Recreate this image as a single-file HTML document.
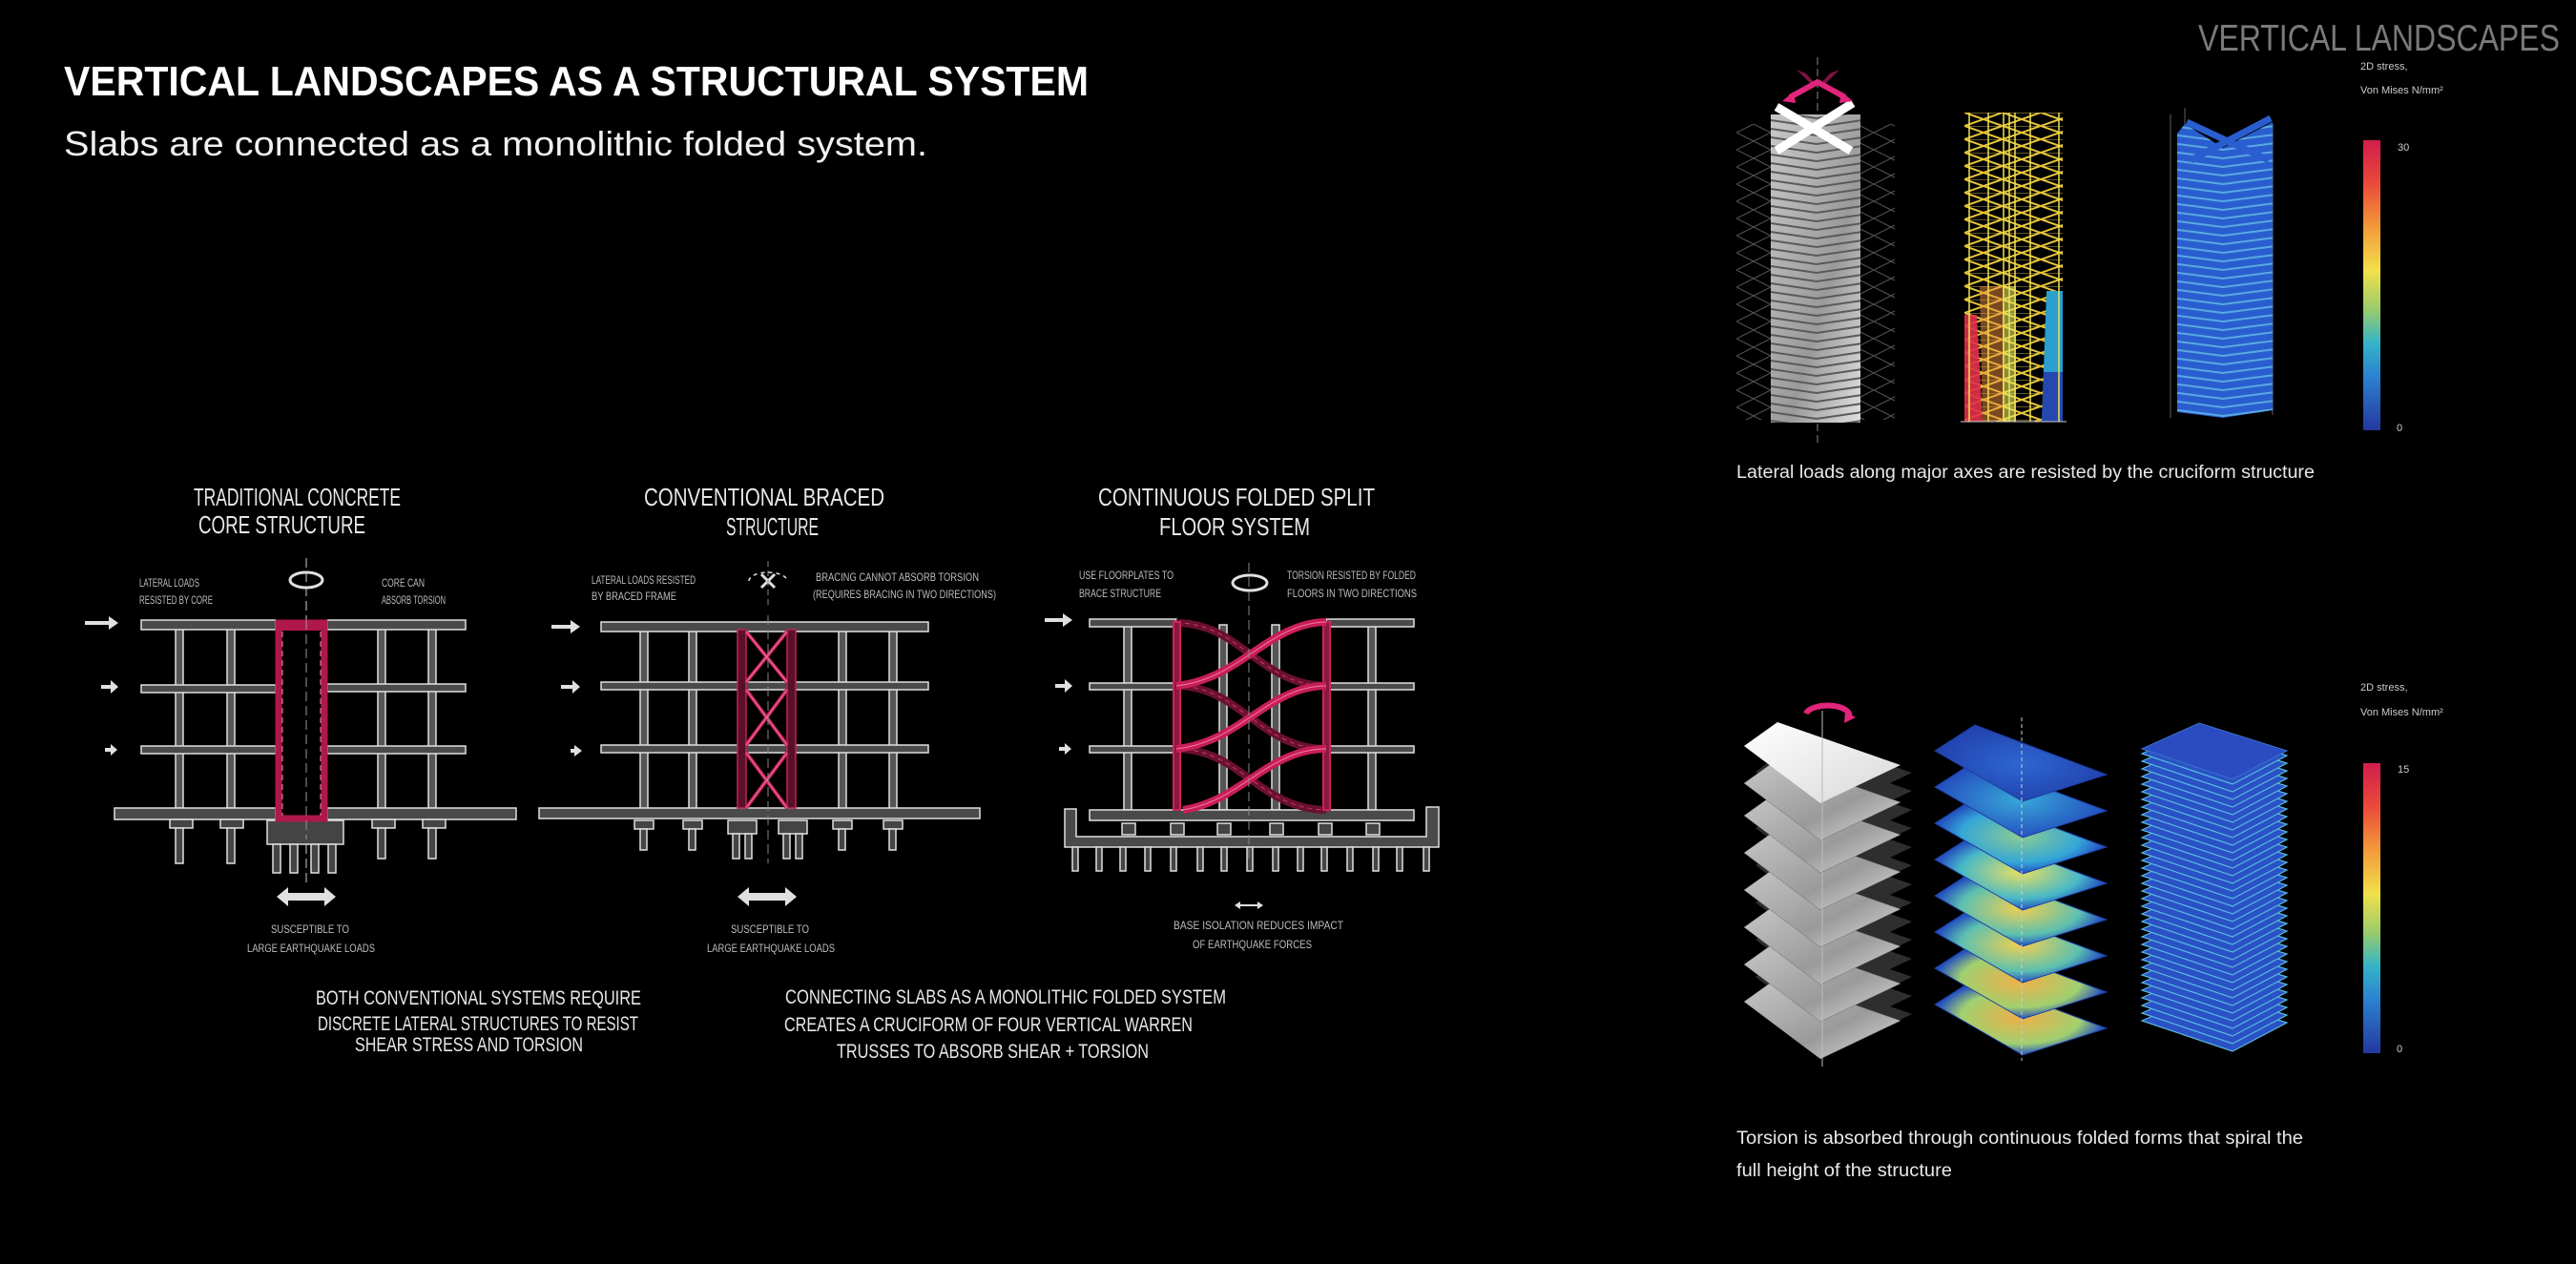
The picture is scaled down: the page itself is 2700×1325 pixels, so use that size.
<!DOCTYPE html>
<html><head><meta charset="utf-8"><style>
html,body{margin:0;padding:0;background:#000;}
svg{display:block;}
.h{font-family:"Liberation Sans Narrow","Liberation Sans",sans-serif;fill:#e8e8e8;}
.s{font-family:"Liberation Sans Narrow","Liberation Sans",sans-serif;fill:#bdbdbd;}
.t{font-family:"Liberation Sans",sans-serif;}
</style></head><body>
<svg width="2700" height="1325" viewBox="0 0 2700 1325" xmlns="http://www.w3.org/2000/svg">
<defs>
<linearGradient id="cbar" x1="0" y1="0" x2="0" y2="1">
<stop offset="0" stop-color="#d21d4c"/><stop offset="0.15" stop-color="#ea4a3a"/><stop offset="0.3" stop-color="#f39a3a"/><stop offset="0.45" stop-color="#f2e04a"/><stop offset="0.58" stop-color="#9ccc6a"/><stop offset="0.7" stop-color="#34b4c8"/><stop offset="0.82" stop-color="#2c7fd0"/><stop offset="1" stop-color="#2438a0"/>
</linearGradient>
<linearGradient id="gw" x1="0" y1="0" x2="1" y2="1"><stop offset="0" stop-color="#fff"/><stop offset="1" stop-color="#d8d8d8"/></linearGradient>
<linearGradient id="gg" x1="0" y1="0" x2="1" y2="1"><stop offset="0" stop-color="#c8c8c8"/><stop offset="0.6" stop-color="#9a9a9a"/><stop offset="1" stop-color="#e0e0e0"/></linearGradient>
<radialGradient id="b0"><stop offset="0" stop-color="#2e66d0"/><stop offset="1" stop-color="#2244b0"/></radialGradient>
<radialGradient id="b1"><stop offset="0" stop-color="#38a8d8"/><stop offset="1" stop-color="#2450c0"/></radialGradient>
<radialGradient id="b2"><stop offset="0" stop-color="#8ccc90"/><stop offset="0.7" stop-color="#34a6d8"/><stop offset="1" stop-color="#2450c0"/></radialGradient>
<radialGradient id="b3"><stop offset="0" stop-color="#e6e060"/><stop offset="0.7" stop-color="#48b8c8"/><stop offset="1" stop-color="#2450c0"/></radialGradient>
<radialGradient id="b4"><stop offset="0" stop-color="#f0d050"/><stop offset="0.7" stop-color="#5cc0b0"/><stop offset="1" stop-color="#2450c0"/></radialGradient>
<radialGradient id="b5"><stop offset="0" stop-color="#f0b048"/><stop offset="0.7" stop-color="#a0d070"/><stop offset="1" stop-color="#2450c0"/></radialGradient>
<pattern id="zig" width="40" height="14" patternUnits="userSpaceOnUse" x="2059" y="118">
<path d="M0 0 L40 14 M0 14 L40 0" stroke="#e8c83a" stroke-width="2"/><path d="M0 0 H40" stroke="#c8b040" stroke-width="1"/></pattern>
<pattern id="chev" width="110" height="9" patternUnits="userSpaceOnUse" x="2275" y="113">
<path d="M0 1 L55 8 L110 1" stroke="#6ec8e8" stroke-width="2" fill="none"/></pattern>
<pattern id="chevg" width="96" height="9" patternUnits="userSpaceOnUse" x="1856" y="107">
<path d="M0 1 L48 8 L96 1" stroke="#5a5a5a" stroke-width="2" fill="none"/></pattern>
<pattern id="wire" width="36" height="18" patternUnits="userSpaceOnUse" x="1820" y="130">
<path d="M0 9 L18 0 L36 9 M0 9 L18 18 L36 9" stroke="#555" stroke-width="1" fill="none"/></pattern>
<path id="dA" d="M1828 782 L1863 757 L1992 802 L1908 842 Z"/>
<path id="dB" d="M2028 787 L2070 760 L2208 812 L2120 840 Z"/>
<path id="dC" d="M2245 785 L2305 758 L2397 787 L2340 817 Z"/>
</defs>

<text x="67" y="100" class="t" font-size="44" font-weight="bold" fill="#fff" textLength="1074" lengthAdjust="spacingAndGlyphs">VERTICAL LANDSCAPES AS A STRUCTURAL SYSTEM</text>
<text x="67" y="163" class="t" font-size="36" fill="#f0f0f0" textLength="905" lengthAdjust="spacingAndGlyphs">Slabs are connected as a monolithic folded system.</text>
<text x="2304" y="53" class="t" font-size="39" fill="#7a7a7a" textLength="379" lengthAdjust="spacingAndGlyphs">VERTICAL LANDSCAPES</text>

<g class="h" font-size="26">
<text x="203" y="530" textLength="217" lengthAdjust="spacingAndGlyphs">TRADITIONAL CONCRETE</text>
<text x="208" y="559" textLength="175" lengthAdjust="spacingAndGlyphs">CORE STRUCTURE</text>
<text x="675" y="530" textLength="252" lengthAdjust="spacingAndGlyphs">CONVENTIONAL BRACED</text>
<text x="761" y="561" textLength="97" lengthAdjust="spacingAndGlyphs">STRUCTURE</text>
<text x="1151" y="530" textLength="290" lengthAdjust="spacingAndGlyphs">CONTINUOUS FOLDED SPLIT</text>
<text x="1215" y="561" textLength="158" lengthAdjust="spacingAndGlyphs">FLOOR SYSTEM</text>
</g>
<g class="s" font-size="12">
<text x="146" y="615" textLength="63" lengthAdjust="spacingAndGlyphs">LATERAL LOADS</text>
<text x="146" y="633" textLength="77" lengthAdjust="spacingAndGlyphs">RESISTED BY CORE</text>
<text x="400" y="615" textLength="45" lengthAdjust="spacingAndGlyphs">CORE CAN</text>
<text x="400" y="633" textLength="67" lengthAdjust="spacingAndGlyphs">ABSORB TORSION</text>
<text x="620" y="612" textLength="109" lengthAdjust="spacingAndGlyphs">LATERAL LOADS RESISTED</text>
<text x="620" y="629" textLength="89" lengthAdjust="spacingAndGlyphs">BY BRACED FRAME</text>
<text x="855" y="609" textLength="171" lengthAdjust="spacingAndGlyphs">BRACING CANNOT ABSORB TORSION</text>
<text x="852" y="627" textLength="192" lengthAdjust="spacingAndGlyphs">(REQUIRES BRACING IN TWO DIRECTIONS)</text>
<text x="1131" y="607" textLength="99" lengthAdjust="spacingAndGlyphs">USE FLOORPLATES TO</text>
<text x="1131" y="626" textLength="86" lengthAdjust="spacingAndGlyphs">BRACE STRUCTURE</text>
<text x="1349" y="607" textLength="135" lengthAdjust="spacingAndGlyphs">TORSION RESISTED BY FOLDED</text>
<text x="1349" y="626" textLength="136" lengthAdjust="spacingAndGlyphs">FLOORS IN TWO DIRECTIONS</text>
<text x="284" y="978" textLength="82" lengthAdjust="spacingAndGlyphs">SUSCEPTIBLE TO</text>
<text x="259" y="998" textLength="134" lengthAdjust="spacingAndGlyphs">LARGE EARTHQUAKE LOADS</text>
<text x="766" y="978" textLength="82" lengthAdjust="spacingAndGlyphs">SUSCEPTIBLE TO</text>
<text x="741" y="998" textLength="134" lengthAdjust="spacingAndGlyphs">LARGE EARTHQUAKE LOADS</text>
<text x="1230" y="974" textLength="178" lengthAdjust="spacingAndGlyphs">BASE ISOLATION REDUCES IMPACT</text>
<text x="1250" y="994" textLength="125" lengthAdjust="spacingAndGlyphs">OF EARTHQUAKE FORCES</text>
</g>
<g class="h" font-size="21">
<text x="331" y="1053" textLength="341" lengthAdjust="spacingAndGlyphs">BOTH CONVENTIONAL SYSTEMS REQUIRE</text>
<text x="333" y="1080" textLength="336" lengthAdjust="spacingAndGlyphs">DISCRETE LATERAL STRUCTURES TO RESIST</text>
<text x="372" y="1102" textLength="239" lengthAdjust="spacingAndGlyphs">SHEAR STRESS AND TORSION</text>
<text x="823" y="1052" textLength="462" lengthAdjust="spacingAndGlyphs">CONNECTING SLABS AS A MONOLITHIC FOLDED SYSTEM</text>
<text x="822" y="1081" textLength="428" lengthAdjust="spacingAndGlyphs">CREATES A CRUCIFORM OF FOUR VERTICAL WARREN</text>
<text x="877" y="1109" textLength="327" lengthAdjust="spacingAndGlyphs">TRUSSES TO ABSORB SHEAR + TORSION</text>
</g>

<!-- Sketch 1 -->
<g stroke="#e0e0e0" stroke-width="1.5">
<line x1="321" y1="585" x2="321" y2="930" stroke="#888" stroke-dasharray="10 5"/>
<g fill="#555">
<rect x="184" y="655" width="8" height="192"/><rect x="238" y="655" width="8" height="192"/>
<rect x="396" y="655" width="8" height="192"/><rect x="449" y="655" width="8" height="192"/>
</g>
<g fill="#4a4a4a">
<rect x="148" y="650" width="141" height="10"/><rect x="343" y="650" width="145" height="10"/>
<rect x="148" y="718" width="141" height="8"/><rect x="343" y="717" width="145" height="8"/>
<rect x="148" y="782" width="141" height="8"/><rect x="343" y="782" width="145" height="8"/>
<rect x="120" y="847" width="169" height="12"/><rect x="343" y="847" width="198" height="12"/>
</g>
<g fill="#444">
<rect x="178" y="859" width="24" height="9"/><rect x="231" y="859" width="24" height="9"/>
<rect x="390" y="859" width="24" height="9"/><rect x="443" y="859" width="24" height="9"/>
<rect x="184" y="868" width="8" height="37"/><rect x="238" y="868" width="8" height="37"/>
<rect x="396" y="868" width="8" height="32"/><rect x="449" y="868" width="8" height="32"/>
<rect x="280" y="860" width="80" height="25"/>
<rect x="286" y="885" width="8" height="30"/><rect x="304" y="885" width="8" height="30"/><rect x="326" y="885" width="8" height="30"/><rect x="344" y="885" width="8" height="30"/>
</g>
</g>
<rect x="292" y="653" width="48" height="205" fill="#000" stroke="#b0184c" stroke-width="7"/>
<rect x="292" y="651" width="48" height="10" fill="#b0184c"/>
<path d="M296 662 V855 M336 662 V855" stroke="#e88aa8" stroke-width="1" stroke-dasharray="6 4"/>
<line x1="321" y1="650" x2="321" y2="880" stroke="#999" stroke-dasharray="10 5"/>
<g fill="#e0e0e0">
<path d="M89 651 H114 V646 L124 653 L114 660 V655 H89 Z"/>
<path d="M106 718 H116 V713 L124 720 L116 727 V722 H106 Z"/>
<path d="M110 784 H116 V780 L123 786 L116 792 V788 H110 Z"/>
<path d="M578 655 H598 V650 L608 657 L598 664 V659 H578 Z"/>
<path d="M588 718 H600 V713 L608 720 L600 727 V722 H588 Z"/>
<path d="M598 785 H602 V781 L610 787 L602 793 V789 H598 Z"/>
<path d="M1095 648 H1114 V643 L1124 650 L1114 657 V652 H1095 Z"/>
<path d="M1106 717 H1116 V712 L1124 719 L1116 726 V721 H1106 Z"/>
<path d="M1110 783 H1116 V779 L1123 785 L1116 791 V787 H1110 Z"/>
<path d="M290 940 L302 930 V936 H340 V930 L352 940 L340 950 V944 H302 V950 Z"/>
<path d="M773 940 L785 930 V936 H823 V930 L835 940 L823 950 V944 H785 V950 Z"/>
<path d="M1294 949 L1300 945 V948 H1318 V945 L1324 949 L1318 953 V950 H1300 V953 Z"/>
</g>
<g fill="none" stroke="#e0e0e0" stroke-width="3">
<ellipse cx="321" cy="608" rx="17" ry="8"/>
<ellipse cx="1310" cy="611" rx="18" ry="8"/>
<path d="M785 609 a20 9 0 1 1 40 0" stroke-dasharray="4 4" stroke-width="1.5"/>
<path d="M798 602 L812 616 M812 602 L798 616" stroke-width="3"/>
</g>
<line x1="805" y1="588" x2="805" y2="635" stroke="#888" stroke-dasharray="6 4"/>

<!-- Sketch 2 -->
<g stroke="#e0e0e0" stroke-width="1.5">
<g fill="#555">
<rect x="671" y="660" width="8" height="188"/><rect x="722" y="660" width="8" height="188"/>
<rect x="879" y="660" width="8" height="188"/><rect x="932" y="660" width="8" height="188"/>
</g>
<g fill="#4a4a4a">
<rect x="630" y="652" width="343" height="10"/>
<rect x="630" y="715" width="343" height="8"/>
<rect x="630" y="781" width="343" height="8"/>
<rect x="565" y="847" width="462" height="11"/>
</g>
<g fill="#444">
<rect x="665" y="860" width="20" height="9"/><rect x="716" y="860" width="20" height="9"/>
<rect x="873" y="860" width="20" height="9"/><rect x="926" y="860" width="20" height="9"/>
<rect x="671" y="869" width="7" height="22"/><rect x="722" y="869" width="7" height="22"/>
<rect x="879" y="869" width="7" height="22"/><rect x="932" y="869" width="7" height="22"/>
<rect x="763" y="860" width="30" height="14"/><rect x="816" y="860" width="30" height="14"/>
<rect x="768" y="874" width="7" height="26"/><rect x="781" y="874" width="7" height="26"/>
<rect x="821" y="874" width="7" height="26"/><rect x="834" y="874" width="7" height="26"/>
</g>
</g>
<g fill="#5a1028" stroke="#c0205a" stroke-width="1.5">
<rect x="773" y="660" width="9" height="187"/><rect x="825" y="660" width="9" height="187"/>
</g>
<g stroke="#c0205a" stroke-width="4">
<path d="M782 662 L825 715 M825 662 L782 715 M782 723 L825 781 M825 723 L782 781 M782 789 L825 847 M825 789 L782 847"/>
</g>
<g stroke="#f07aa0" stroke-width="1">
<path d="M782 662 L825 715 M825 662 L782 715 M782 723 L825 781 M825 723 L782 781 M782 789 L825 847 M825 789 L782 847"/>
</g>
<line x1="805" y1="645" x2="805" y2="905" stroke="#888" stroke-dasharray="10 5"/>

<!-- Sketch 3 -->
<g stroke="#e0e0e0" stroke-width="1.5">
<g fill="#555">
<rect x="1178" y="655" width="8" height="194"/><rect x="1278" y="655" width="8" height="194"/>
<rect x="1333" y="655" width="8" height="194"/><rect x="1434" y="655" width="8" height="194"/>
</g>
<g fill="#4a4a4a">
<rect x="1142" y="649" width="91" height="8"/><rect x="1390" y="649" width="92" height="8"/>
<rect x="1142" y="716" width="91" height="7"/><rect x="1390" y="716" width="92" height="7"/>
<rect x="1142" y="782" width="91" height="7"/><rect x="1390" y="782" width="92" height="7"/>
<rect x="1142" y="849" width="340" height="11"/>
<path d="M1116 848 H1128 V877 H1495 V846 H1508 V888 H1116 Z"/>
</g>
<g fill="#444">
<rect x="1176" y="863" width="14" height="12"/><rect x="1227" y="863" width="14" height="12"/>
<rect x="1276" y="863" width="14" height="12"/><rect x="1331" y="863" width="14" height="12"/>
<rect x="1382" y="863" width="14" height="12"/><rect x="1432" y="863" width="14" height="12"/>
</g>
<g fill="#444">
<rect x="1124" y="888" width="6" height="25"/><rect x="1149" y="888" width="6" height="25"/><rect x="1174" y="888" width="6" height="25"/>
<rect x="1200" y="888" width="6" height="25"/><rect x="1227" y="888" width="6" height="25"/><rect x="1255" y="888" width="6" height="25"/>
<rect x="1280" y="888" width="6" height="25"/><rect x="1307" y="888" width="6" height="25"/><rect x="1334" y="888" width="6" height="25"/>
<rect x="1360" y="888" width="6" height="25"/><rect x="1385" y="888" width="6" height="25"/><rect x="1412" y="888" width="6" height="25"/>
<rect x="1439" y="888" width="6" height="25"/><rect x="1464" y="888" width="6" height="25"/><rect x="1492" y="888" width="6" height="25"/>
</g>
</g>
<g fill="none" stroke="#6a1030" stroke-width="8">
<path d="M1233 653 C1300 653, 1320 718, 1390 719"/>
<path d="M1233 719 C1300 719, 1320 785, 1390 785"/>
<path d="M1233 785 C1300 785, 1320 848, 1390 849"/>
</g>
<g fill="none" stroke="#c83a6a" stroke-width="1" stroke-dasharray="5 4">
<path d="M1233 653 C1300 653, 1320 718, 1390 719"/>
<path d="M1233 719 C1300 719, 1320 785, 1390 785"/>
<path d="M1233 785 C1300 785, 1320 848, 1390 849"/>
</g>
<g fill="#8a1840" stroke="#d0205e" stroke-width="2">
<rect x="1230" y="652" width="7" height="197"/><rect x="1387" y="652" width="7" height="197"/>
</g>
<g fill="none" stroke="#c81e58" stroke-width="8">
<path d="M1233 719 C1300 712, 1330 653, 1390 652"/>
<path d="M1233 785 C1300 778, 1330 719, 1390 719"/>
<path d="M1240 849 C1300 840, 1330 785, 1390 785"/>
</g>
<g fill="none" stroke="#f07aa0" stroke-width="1">
<path d="M1233 719 C1300 712, 1330 653, 1390 652"/>
<path d="M1233 785 C1300 778, 1330 719, 1390 719"/>
<path d="M1240 849 C1300 840, 1330 785, 1390 785"/>
</g>
<line x1="1309" y1="590" x2="1309" y2="905" stroke="#888" stroke-dasharray="10 5"/>

<!-- Right top -->
<text x="2474" y="73" class="t" font-size="11" fill="#ccc">2D stress,</text>
<text x="2474" y="98" class="t" font-size="11" fill="#ccc">Von Mises N/mm²</text>
<rect x="2477" y="147" width="18" height="304" fill="url(#cbar)"/>
<text x="2513" y="158" class="t" font-size="11" fill="#ccc">30</text>
<text x="2512" y="452" class="t" font-size="11" fill="#ccc">0</text>

<line x1="1905" y1="60" x2="1905" y2="467" stroke="#888" stroke-dasharray="8 4"/>
<rect x="1820" y="130" width="36" height="310" fill="url(#wire)"/>
<rect x="1950" y="130" width="36" height="310" fill="url(#wire)"/>
<rect x="1856" y="120" width="94" height="323" fill="url(#gg)"/>
<rect x="1856" y="120" width="94" height="323" fill="url(#chevg)"/>
<path d="M1862 112 L1940 158 M1942 108 L1862 158" stroke="#fff" stroke-width="9"/>
<g fill="none" stroke="#e0257a" stroke-width="6">
<path d="M1876 102 L1905 86 L1934 102"/>
</g>
<g fill="#e0257a">
<path d="M1868 106 L1880 96 L1882 108 Z M1942 106 L1930 96 L1928 108 Z"/>
<path d="M1883 73 L1893 77 L1903 88 L1900 90 L1890 80 Z M1928 73 L1918 77 L1908 88 L1911 90 L1921 80 Z" opacity="0.55"/>
</g>
<rect x="2059" y="118" width="103" height="324" fill="url(#zig)"/>
<path d="M2059 330 L2072 330 L2078 442 L2059 442 Z" fill="#e0304a" opacity="0.9"/>
<path d="M2075 300 L2100 300 L2100 442 L2078 442 Z" fill="#f09040" opacity="0.5"/>
<path d="M2145 305 L2162 305 L2162 442 L2140 442 Z" fill="#2a9fd0"/>
<path d="M2142 390 L2162 390 L2162 442 L2140 442 Z" fill="#2548b0"/>
<g stroke="#f0e050" stroke-width="1.5">
<line x1="2064" y1="118" x2="2064" y2="442"/><line x1="2084" y1="118" x2="2084" y2="442"/>
<line x1="2100" y1="118" x2="2100" y2="442"/><line x1="2106" y1="118" x2="2106" y2="442"/>
<line x1="2112" y1="118" x2="2112" y2="442"/><line x1="2128" y1="118" x2="2128" y2="442"/>
<line x1="2158" y1="118" x2="2158" y2="442"/>
</g>
<rect x="2099" y="300" width="14" height="142" fill="#e8e860" opacity="0.6"/>
<line x1="2055" y1="442" x2="2166" y2="442" stroke="#ccc"/>
<g stroke="#777" stroke-width="0.8" fill="none">
<path d="M2275 120 V438 M2290 113 V430 M2382 130 V435"/>
</g>
<path d="M2290 130 L2330 155 L2382 128 L2382 430 L2330 438 L2282 432 L2282 140 Z" fill="#2a5ed0"/>
<path d="M2290 130 L2330 155 L2382 128 L2382 430 L2330 438 L2282 432 L2282 140 Z" fill="url(#chev)" opacity="0.7"/>
<path d="M2292 128 L2378 168 M2380 124 L2296 168" stroke="#2a5ed0" stroke-width="7"/>

<text x="1820" y="501" class="t" font-size="19" fill="#e8e8e8" textLength="606" lengthAdjust="spacingAndGlyphs">Lateral loads along major axes are resisted by the cruciform structure</text>

<!-- Right bottom -->
<text x="2474" y="724" class="t" font-size="11" fill="#ccc">2D stress,</text>
<text x="2474" y="750" class="t" font-size="11" fill="#ccc">Von Mises N/mm²</text>
<rect x="2477" y="800" width="18" height="304" fill="url(#cbar)"/>
<text x="2513" y="810" class="t" font-size="11" fill="#ccc">15</text>
<text x="2512" y="1103" class="t" font-size="11" fill="#ccc">0</text>

<g fill="#3a3a3a" opacity="0.8">
<use href="#dA" x="12" y="8"/><use href="#dA" x="12" y="27"/><use href="#dA" x="12" y="47"/><use href="#dA" x="12" y="66"/>
<use href="#dA" x="12" y="86"/><use href="#dA" x="12" y="105"/><use href="#dA" x="12" y="125"/><use href="#dA" x="12" y="144"/>
<use href="#dA" x="12" y="164"/><use href="#dA" x="12" y="183"/><use href="#dA" x="12" y="203"/><use href="#dA" x="12" y="222"/>
<use href="#dA" x="12" y="242"/><use href="#dA" x="12" y="261"/>
</g>
<g fill="url(#gg)" stroke="#666" stroke-width="0.5">
<use href="#dA" y="268"/><use href="#dA" y="229"/><use href="#dA" y="190"/><use href="#dA" y="151"/>
<use href="#dA" y="112"/><use href="#dA" y="73"/><use href="#dA" y="39"/>
</g>
<use href="#dA" fill="url(#gw)"/>
<line x1="1910" y1="745" x2="1910" y2="1118" stroke="#bbb" stroke-width="1"/>
<path d="M1893 748 A22 10 0 1 1 1938 752" fill="none" stroke="#e0257a" stroke-width="6"/>
<path d="M1934 746 L1945 752 L1933 758 Z" fill="#e0257a"/>
<g stroke="#1c3ca0" stroke-width="1">
<use href="#dB" y="266" fill="url(#b5)"/><use href="#dB" y="228" fill="url(#b5)"/><use href="#dB" y="190" fill="url(#b4)"/>
<use href="#dB" y="152" fill="url(#b4)"/><use href="#dB" y="114" fill="url(#b3)"/><use href="#dB" y="76" fill="url(#b2)"/>
<use href="#dB" y="38" fill="url(#b1)"/><use href="#dB" fill="url(#b0)"/>
</g>
<line x1="2119" y1="752" x2="2119" y2="1112" stroke="#ccc" stroke-width="1" stroke-dasharray="4 3"/>
<g fill="#2a52c4" stroke="#58b8e0" stroke-width="1.2">
<use href="#dC" y="285"/><use href="#dC" y="277"/><use href="#dC" y="269"/><use href="#dC" y="261"/><use href="#dC" y="253"/>
<use href="#dC" y="245"/><use href="#dC" y="237"/><use href="#dC" y="229"/><use href="#dC" y="221"/><use href="#dC" y="213"/>
<use href="#dC" y="205"/><use href="#dC" y="197"/><use href="#dC" y="189"/><use href="#dC" y="181"/><use href="#dC" y="173"/>
<use href="#dC" y="165"/><use href="#dC" y="157"/><use href="#dC" y="149"/><use href="#dC" y="141"/><use href="#dC" y="133"/>
<use href="#dC" y="125"/><use href="#dC" y="117"/><use href="#dC" y="109"/><use href="#dC" y="101"/><use href="#dC" y="93"/>
<use href="#dC" y="85"/><use href="#dC" y="77"/><use href="#dC" y="69"/><use href="#dC" y="61"/><use href="#dC" y="53"/>
<use href="#dC" y="45"/><use href="#dC" y="37"/><use href="#dC" y="29"/><use href="#dC" y="21"/><use href="#dC" y="13"/>
<use href="#dC" y="5"/>
</g>
<use href="#dC" fill="#2a4cc0" stroke="#3a70d0"/>

<text x="1820" y="1199" class="t" font-size="19" fill="#e8e8e8" textLength="594" lengthAdjust="spacingAndGlyphs">Torsion is absorbed through continuous folded forms that spiral the</text>
<text x="1820" y="1233" class="t" font-size="19" fill="#e8e8e8" textLength="226" lengthAdjust="spacingAndGlyphs">full height of the structure</text>
</svg>
</body></html>
